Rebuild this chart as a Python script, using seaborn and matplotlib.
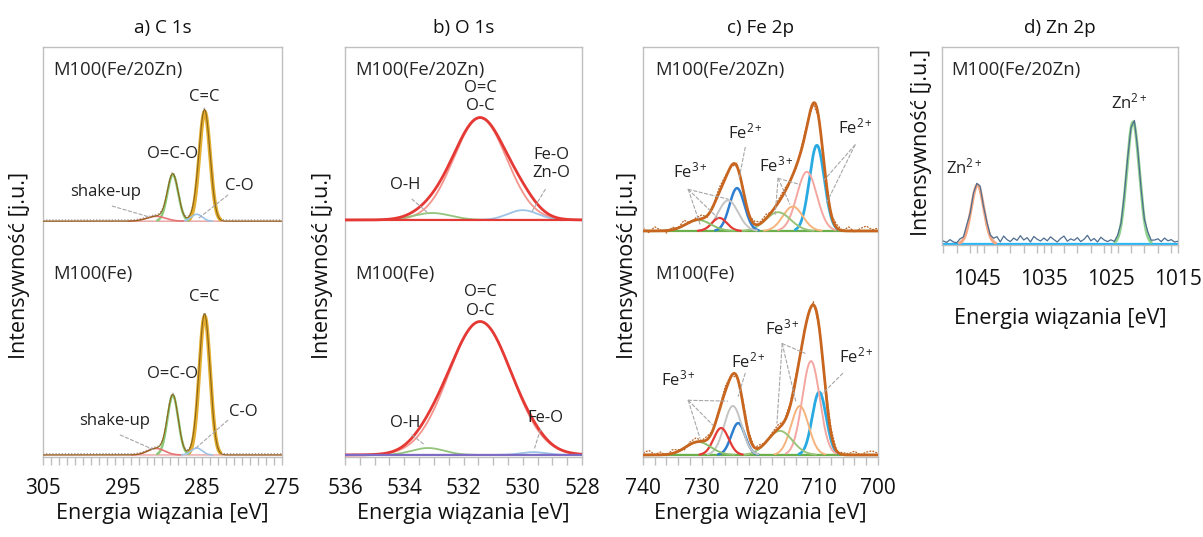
import numpy as np
import matplotlib
matplotlib.use('Agg')
import matplotlib.pyplot as plt
import seaborn as sns
from matplotlib.ticker import MultipleLocator, FixedLocator

# ---------------- data ----------------
# every fitted component: centre [eV], height [j.u.], FWHM [eV]

# a) C 1s  (components: C=C, O=C-O, C-O, shake-up)
c1s_center = [284.7, 288.7, 285.7, 290.8]
c1s_fwhm = [1.6, 1.6, 1.6, 2.8]
c1s_height_zn = [26.8, 11.4, 1.7, 1.2]
c1s_height_fe = [34.0, 14.6, 1.7, 1.6]
c1s_fwhm_fe_shake = 2.5

# b) O 1s  (components: O=C/O-C, O-H, Fe-O/Zn-O)
o1s_center_zn = [531.44, 533.06, 530.0]
o1s_fwhm_zn = [2.1, 1.5, 1.2]
o1s_height_zn = [25.0, 1.7, 2.4]
o1s_center_fe = [531.44, 533.2, 529.65]
o1s_fwhm_fe = [2.5, 1.3, 1.0]
o1s_height_fe = [32.7, 1.7, 0.7]

# c) Fe 2p  (components: 2p3/2 Fe2+, Fe3+, Fe3+, sat., 2p1/2 Fe2+, Fe3+, Fe3+, sat.)
fe_center_zn = [710.4, 712.1, 714.5, 717.0, 724.0, 725.5, 727.0, 730.6]
fe_fwhm_zn = [3.0, 4.0, 4.0, 5.0, 3.0, 4.0, 3.0, 5.0]
fe_height_zn = [21.0, 14.5, 6.0, 4.6, 10.5, 7.5, 3.2, 2.7]
fe_center_fe = [710.0, 711.4, 713.3, 716.7, 723.8, 724.7, 726.7, 730.6]
fe_fwhm_fe = [2.8, 3.5, 3.5, 5.0, 2.8, 3.5, 3.0, 5.0]
fe_height_fe = [15.4, 23.0, 12.0, 5.9, 7.8, 12.0, 6.6, 3.2]

# raw-signal wiggle around the fit, Fe 2p, 740 -> 700 eV every 1 eV
fe_noise_zn = [0.8, -0.4, 1.0, 0.2, -0.6, 0.6, 0.0, 1.2, -0.2, 0.5,
               0.9, -0.5, 0.3, 1.1, 0.6, -0.3, 0.8, 0.2, -0.4, 0.7,
               0.4, 1.0, -0.2, 0.6, 0.9, 0.1, -0.5, 0.7, 0.3, -0.3,
               0.5, 0.2, -0.4, 0.8, 0.0, 1.0, -0.2, 0.6, 1.2, 0.3, 0.7]
fe_noise_fe = [0.5, 1.1, 0.1, 0.7, -0.3, 0.9, 0.4, -0.5, 0.6, 1.0,
               0.2, 0.8, -0.4, 0.5, 1.2, 0.3, -0.2, 0.9, 0.6, 0.0,
               0.7, -0.3, 0.5, 1.0, 0.2, 0.6, 0.9, -0.4, 0.4, 0.8,
               0.1, 0.6, 1.1, -0.2, 0.5, 0.3, 0.9, 0.0, 0.7, 1.0, 0.4]

# d) Zn 2p  (components: 2p1/2, 2p3/2)
zn_center = [1044.9, 1021.7]
zn_fwhm = [2.2, 2.2]
zn_height = [29.8, 61.6]
# raw-signal wiggle, 1050 -> 1015 eV every 0.5 eV
zn_noise = [1.5, 0.8, 2.2, 1.0, 0.5, 2.0, 1.2, 2.8, 0.6, 1.4,
            1.0, 2.0, 0.3, 1.5, 0.8, 1.8, 3.5, 1.0, 4.0, 2.2,
            1.2, 3.0, 1.8, 4.2, 2.0, 3.2, 1.0, 3.8, 2.4, 1.5,
            3.0, 1.6, 3.6, 2.2, 1.0, 2.8, 4.0, 1.4, 2.6, 1.8,
            3.2, 1.2, 2.4, 4.4, 1.6, 2.8, 1.0, 3.4, 2.0, 1.2,
            2.0, 0.6, 1.4, 0.8, 1.8, 1.0, 0.4, 2.2, 1.2, 0.8,
            0.6, 2.4, 1.0, 1.8, 2.6, 1.2, 3.0, 1.6, 2.2, 1.0, 1.4]

# vertical shift of the M100(Fe/20Zn) spectrum
shift_c1s = 57.3
shift_o1s = 57.6
shift_fe = 54.9

# x-axis ticks
ticks_c1s = [305, 295, 285, 275]
ticks_o1s = [536, 534, 532, 530, 528]
ticks_fe = [740, 730, 720, 710, 700]
ticks_zn = [1045, 1035, 1025, 1015]

sample_top = 'M100(Fe/20Zn)'
sample_bottom = 'M100(Fe)'
titles = ['a) C 1s', 'b) O 1s', 'c) Fe 2p', 'd) Zn 2p']
xlabel = 'Energia wiązania [eV]'
ylabel = 'Intensywność [j.u.]'

# ---------------- style ----------------
sns.set_theme(style='white')
plt.rcParams['font.family'] = ['Open Sans', 'DejaVu Sans']
plt.rcParams['mathtext.default'] = 'regular'

GRID = '#BFBFBF'
DASH = '#A6A6A6'


def gauss(x, c, h, w):
    return h * np.exp(-4 * np.log(2) * ((x - c) / w) ** 2)


def curve(ax, x, y, color, lw, zorder=2, **kw):
    sns.lineplot(x=x, y=y, ax=ax, color=color, lw=lw, sort=False,
                 estimator=None, zorder=zorder, **kw)


def component(ax, x, c, h, w, off, color, lw, zorder=2):
    # draw a fitted peak only where it rises above the baseline
    y = gauss(x, c, h, w)
    m = y > 0.015 * h
    curve(ax, x[m], y[m] + off, color, lw, zorder=zorder)


def leader(ax, start, ends):
    for end in ends:
        ax.annotate('', xy=end, xytext=start,
                    arrowprops=dict(arrowstyle='-', color=DASH, lw=0.8,
                                    linestyle=(0, (3, 2)), shrinkA=0, shrinkB=0))


def label(ax, x, y, s, size=12):
    ax.text(x, y, s, ha='center', va='center', fontsize=size, color='#222222')


def frame(ax, xlim, major, minor, ylim, ylab_x, ylab_y, xlab_y, tick_pad):
    ax.set_xlim(*xlim)
    ax.set_ylim(*ylim)
    ax.xaxis.set_major_locator(FixedLocator(major))
    ax.xaxis.set_minor_locator(MultipleLocator(minor))
    ax.set_yticks([])
    ax.tick_params(axis='x', which='both', direction='out', length=6, width=1,
                   color=GRID, labelsize=15, labelcolor='#111111', pad=tick_pad,
                   bottom=True)
    for sp in ax.spines.values():
        sp.set_color(GRID)
        sp.set_linewidth(1.0)
    ax.set_xlabel(xlabel, fontsize=15.5, va='center', color='#111111')
    ax.xaxis.set_label_coords(0.5, xlab_y)
    ax.set_ylabel(ylabel, fontsize=15.5, va='center', color='#111111')
    ax.yaxis.set_label_coords(ylab_x, ylab_y)
    ax.grid(False)


fig = plt.figure(figsize=(12.03, 5.37), dpi=100)
fig.patch.set_facecolor('white')

ax_a = fig.add_axes([0.0357, 0.149, 0.1987, 0.7635])
ax_b = fig.add_axes([0.2868, 0.149, 0.1970, 0.7635])
ax_c = fig.add_axes([0.5345, 0.149, 0.1953, 0.7635])
ax_d = fig.add_axes([0.7830, 0.5438, 0.1962, 0.3687])

# ---------------- a) C 1s ----------------
x = np.linspace(305, 275, 1200)
a_colors = ['#E3AE2F', '#8CC97A', '#9DC3E6', '#E57373']
a_lws = [2.8, 1.8, 1.2, 1.2]
for heights, off in [(c1s_height_zn, shift_c1s), (c1s_height_fe, 0.0)]:
    fw = list(c1s_fwhm)
    if off == 0.0:
        fw[3] = c1s_fwhm_fe_shake
    env = np.sum([gauss(x, c, h, w) for c, h, w in zip(c1s_center, heights, fw)], axis=0)
    curve(ax_a, x, np.full_like(x, off), '#E8A0A0', 1.0, zorder=1)
    curve(ax_a, x, env + off + 0.3, '#9A9A9A', 0.9, zorder=1, linestyle=(0, (1, 1.5)))
    for c, h, w, col, lw in zip(c1s_center, heights, fw, a_colors, a_lws):
        component(ax_a, x, c, h, w, off, col, lw)
    curve(ax_a, x, env + off, '#8C6418', 0.8, zorder=3)

ax_a.text(0.042, 0.944, sample_top, transform=ax_a.transAxes, fontsize=13.3, va='center')
ax_a.text(0.042, 0.446, sample_bottom, transform=ax_a.transAxes, fontsize=13.3, va='center')
label(ax_a, 284.7, 87.8, 'C=C')
label(ax_a, 288.8, 73.7, 'O=C-O')
label(ax_a, 297.2, 64.4, 'shake-up')
label(ax_a, 280.3, 65.9, 'C-O')
leader(ax_a, (296.3, 61.0), [(291.6, 58.3)])
leader(ax_a, (281.8, 63.7), [(285.6, 57.8)])
label(ax_a, 284.7, 38.8, 'C=C')
label(ax_a, 288.8, 19.8, 'O=C-O')
label(ax_a, 296.0, 8.3, 'shake-up')
label(ax_a, 279.9, 10.5, 'C-O')
leader(ax_a, (295.3, 4.9), [(291.0, 1.2)])
leader(ax_a, (281.8, 8.5), [(285.8, 1.7)])

# ---------------- b) O 1s ----------------
x = np.linspace(536, 528, 1200)
b_colors = ['#F4948C', '#93C47D', '#9DC3E6']
for cen, fw, hts, off, base in [(o1s_center_zn, o1s_fwhm_zn, o1s_height_zn, shift_o1s, '#E53935'),
                                (o1s_center_fe, o1s_fwhm_fe, o1s_height_fe, 0.0, '#7E6BC4')]:
    env = np.sum([gauss(x, c, h, w) for c, h, w in zip(cen, hts, fw)], axis=0)
    for c, h, w, col in zip(cen, hts, fw, b_colors):
        component(ax_b, x, c, h, w, off, col, 1.3)
    curve(ax_b, x, env + off, '#E53935', 2.0, zorder=3)
    curve(ax_b, x, np.full_like(x, off), base, 1.6, zorder=3)

ax_b.text(0.042, 0.944, sample_top, transform=ax_b.transAxes, fontsize=13.3, va='center')
ax_b.text(0.042, 0.446, sample_bottom, transform=ax_b.transAxes, fontsize=13.3, va='center')
label(ax_b, 531.44, 87.7, 'O=C\nO-C')
label(ax_b, 533.97, 66.1, 'O-H')
label(ax_b, 529.04, 71.3, 'Fe-O\nZn-O')
leader(ax_b, (533.74, 62.7), [(533.2, 59.3)])
leader(ax_b, (529.24, 65.1), [(529.68, 59.8)])
label(ax_b, 531.44, 37.6, 'O=C\nO-C')
label(ax_b, 533.97, 7.8, 'O-H')
label(ax_b, 529.24, 9.0, 'Fe-O')
leader(ax_b, (533.74, 4.9), [(533.3, 2.4)])
leader(ax_b, (529.4, 6.3), [(529.6, 1.7)])

# ---------------- c) Fe 2p ----------------
x = np.linspace(740, 700, 1200)
x_raw = np.arange(740, 699.5, -1.0)
c_colors = ['#29ABE2', '#F4A6A0', '#F6B47C', '#9BC47A',
            '#2F7FD0', '#C4C4C4', '#E53935', '#8DBF6E']
c_lws = [2.0, 1.4, 1.4, 1.4, 1.8, 1.4, 1.6, 1.4]
for cen, fw, hts, noise, off in [(fe_center_zn, fe_fwhm_zn, fe_height_zn, fe_noise_zn, shift_fe),
                                 (fe_center_fe, fe_fwhm_fe, fe_height_fe, fe_noise_fe, 0.0)]:
    env = np.sum([gauss(x, c, h, w) for c, h, w in zip(cen, hts, fw)], axis=0)
    raw = np.sum([gauss(x_raw, c, h, w) for c, h, w in zip(cen, hts, fw)], axis=0)
    curve(ax_c, x, np.full_like(x, off), '#6AAF4A', 1.6, zorder=1)
    curve(ax_c, x_raw, raw + off + np.array(noise), '#B8652A', 0.9, zorder=2,
          linestyle=(0, (1.5, 1)))
    for c, h, w, col, lw in zip(cen, hts, fw, c_colors, c_lws):
        component(ax_c, x, c, h, w, off, col, lw)
    curve(ax_c, x, env + off, '#C8651E', 2.0, zorder=3)

ax_c.text(0.05, 0.944, sample_top, transform=ax_c.transAxes, fontsize=13.3, va='center')
ax_c.text(0.05, 0.446, sample_bottom, transform=ax_c.transAxes, fontsize=13.3, va='center')
fe3 = 'Fe$^{3+}$'
fe2 = 'Fe$^{2+}$'
label(ax_c, 732.0, 69.5, fe3)
label(ax_c, 722.6, 79.0, fe2)
label(ax_c, 717.2, 71.0, fe3)
label(ax_c, 703.9, 80.2, fe2)
leader(ax_c, (732.3, 65.1), [(730.3, 56.6), (727.2, 58.0), (725.5, 62.7)])
leader(ax_c, (722.6, 75.4), [(723.6, 68.0)])
leader(ax_c, (717.0, 67.8), [(717.5, 59.0), (715.0, 61.5), (713.3, 66.3)])
leader(ax_c, (703.9, 76.0), [(709.4, 67.0), (708.85, 61.5)])
label(ax_c, 734.0, 18.5, fe3)
label(ax_c, 722.1, 22.9, fe2)
label(ax_c, 716.3, 31.0, fe3)
label(ax_c, 703.6, 24.1, fe2)
leader(ax_c, (732.3, 13.4), [(730.3, 4.1), (728.1, 7.3), (725.6, 13.2)])
leader(ax_c, (722.6, 20.0), [(723.8, 14.4)])
leader(ax_c, (716.3, 27.3), [(717.2, 7.8), (714.0, 13.2), (712.4, 24.9)])
leader(ax_c, (706.0, 20.0), [(709.4, 15.1)])

# ---------------- d) Zn 2p ----------------
x = np.linspace(1050.2, 1015, 1200)
x_raw = np.arange(1050, 1014.75, -0.5)
d_colors = ['#F4A582', '#8ED18E']
raw = np.sum([gauss(x_raw, c, h, w) for c, h, w in zip(zn_center, zn_height, zn_fwhm)], axis=0)
curve(ax_d, x, np.zeros_like(x), '#29B6F6', 1.6, zorder=1)
for c, h, w, col in zip(zn_center, zn_height, zn_fwhm, d_colors):
    component(ax_d, x, c, h, w, 0.0, col, 2.2)
curve(ax_d, x_raw, raw + np.array(zn_noise), '#4F6D8F', 0.9, zorder=3)

ax_d.text(0.04, 0.884, sample_top, transform=ax_d.transAxes, fontsize=13.3, va='center')
label(ax_d, 1046.9, 38.9, 'Zn$^{2+}$')
label(ax_d, 1022.2, 71.7, 'Zn$^{2+}$')

# ---------------- frames ----------------
frame(ax_a, (305, 275), ticks_c1s, 1, (-0.5, 100), -0.096, 0.468, -0.137, 9)
frame(ax_b, (536, 528), ticks_o1s, 0.5, (-0.5, 100), -0.093, 0.468, -0.137, 9)
frame(ax_c, (740, 700), ticks_fe, 2, (-0.5, 100), -0.068, 0.468, -0.137, 9)
frame(ax_d, (1050.2, 1015), ticks_zn, 2, (-0.5, 99.5), -0.085, 0.52, -0.369, 11)

for ax, t in zip([ax_a, ax_b, ax_c, ax_d], titles):
    h = ax.get_position().height * 537
    ax.text(0.5, 1 + 19 / h, t, transform=ax.transAxes, ha='center', va='center',
            fontsize=13.6, color='#111111')

fig.savefig('out.png', dpi=100, facecolor='white')
